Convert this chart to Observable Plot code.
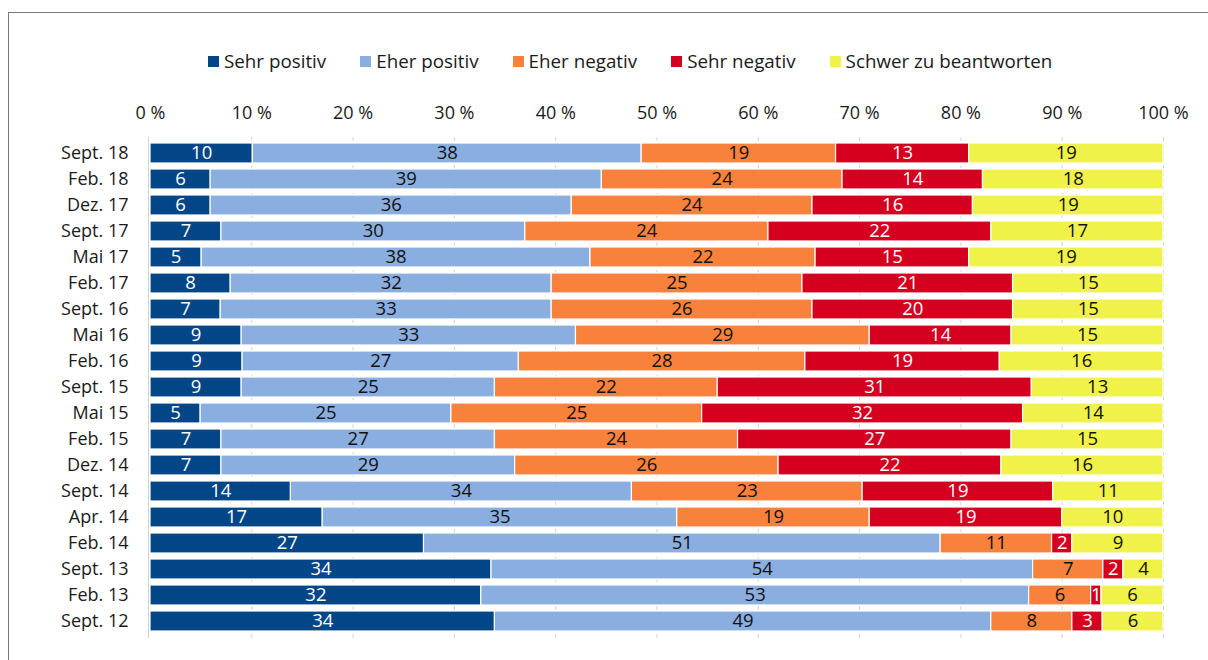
<!DOCTYPE html>
<html><head><meta charset="utf-8">
<script src="https://cdn.jsdelivr.net/npm/d3@7"></script>
<script src="https://cdn.jsdelivr.net/npm/@observablehq/plot@0.6"></script>
<style>
body{margin:0;width:1208px;height:660px;overflow:hidden;background:#fff;font-family:"Open Sans",sans-serif;position:relative}
#frame{position:absolute;left:8px;top:12px;width:1240px;height:700px;border:1.5px solid #7a7a7a;box-sizing:border-box}
#legend{position:absolute;top:48px;left:208px;display:flex;gap:34px;font-size:18.8px;color:#1a1a1a;white-space:nowrap}
#legend .item{display:flex;align-items:center;gap:5px}
#legend .sw{width:11px;height:11px;display:inline-block}
#chart{position:absolute;top:90px;left:0}
</style></head><body>
<div id="frame"></div>
<div id="legend"></div>
<div id="chart"></div>
<script>
const periods = ["Sept. 18","Feb. 18","Dez. 17","Sept. 17","Mai 17","Feb. 17","Sept. 16","Mai 16","Feb. 16","Sept. 15","Mai 15","Feb. 15","Dez. 14","Sept. 14","Apr. 14","Feb. 14","Sept. 13","Feb. 13","Sept. 12"];
const categories = ["Sehr positiv","Eher positiv","Eher negativ","Sehr negativ","Schwer zu beantworten"];
const colors = ["#024687","#8aaee0","#f8813c","#d5001f","#f0f24a"];
const sehrPositiv = [10,6,6,7,5,8,7,9,9,9,5,7,7,14,17,27,34,32,34];
const eherPositiv = [38,39,36,30,38,32,33,33,27,25,25,27,29,34,35,51,54,53,49];
const eherNegativ = [19,24,24,24,22,25,26,29,28,22,25,24,26,23,19,11,7,6,8];
const sehrNegativ = [13,14,16,22,15,21,20,14,19,31,32,27,22,19,19,2,2,1,3];
const schwer = [19,18,19,17,19,15,15,15,16,13,14,15,16,11,10,9,4,6,6];
const xTicks = [0,10,20,30,40,50,60,70,80,90,100];

const series = [sehrPositiv, eherPositiv, eherNegativ, sehrNegativ, schwer];
const rows = [];
periods.forEach((p, i) => categories.forEach((c, j) => rows.push({period: p, cat: c, value: series[j][i]})));
const whiteText = new Set(["Sehr positiv", "Sehr negativ"]);

const legend = document.getElementById("legend");
categories.forEach((c, j) => {
  const it = document.createElement("div");
  it.className = "item";
  it.innerHTML = `<span class="sw" style="background:${colors[j]}"></span><span>${c}</span>`;
  legend.appendChild(it);
});

const stackOpts = {x: "value", y: "period", z: "cat", order: categories, offset: "normalize"};
const chart = Plot.plot({
  width: 1208, height: 570,
  marginLeft: 150, marginRight: 45, marginTop: 47, marginBottom: 22,
  style: {fontFamily: "Open Sans", fontSize: "18px", color: "#1a1a1a", background: "transparent"},
  x: {domain: [0, 1], axis: "top", ticks: xTicks.map(d => d / 100), tickFormat: d => Math.round(d * 100) + " %", tickSize: 0, tickPadding: 19, label: null},
  y: {domain: periods, padding: 0.23, tickSize: 0, tickPadding: 22, label: null},
  color: {domain: categories, range: colors},
  marks: [
    Plot.ruleX(xTicks.slice(1).map(d => d / 100), {stroke: "#d4d4d4", strokeDasharray: "4,3"}),
    Plot.ruleX([0], {stroke: "#d4d4d4", dx: -2}),
    Plot.barX(rows, Plot.stackX({...stackOpts, fill: "cat", stroke: "white", strokeWidth: 1.2})),
    Plot.text(rows, Plot.stackX({...stackOpts, text: d => whiteText.has(d.cat) ? String(d.value) : "", fill: "white", fontSize: 18.5})),
    Plot.text(rows, Plot.stackX({...stackOpts, text: d => whiteText.has(d.cat) ? "" : String(d.value), fill: "#111", fontSize: 18.5}))
  ]
});
document.getElementById("chart").appendChild(chart);
</script>
</body></html>
